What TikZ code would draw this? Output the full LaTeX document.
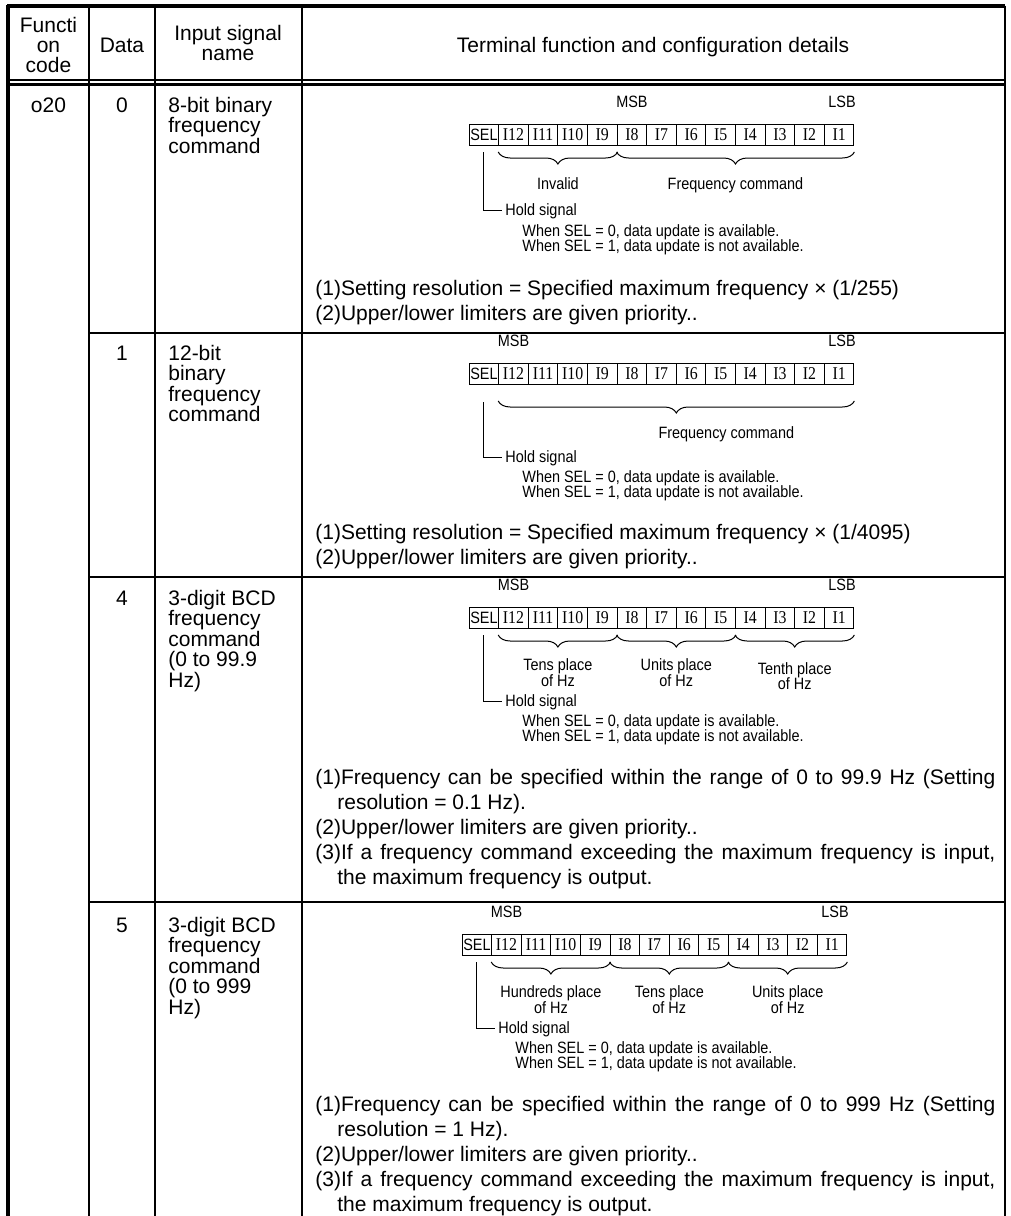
\documentclass[tikz,border=0pt]{standalone}
\usepackage{fontspec}
\setmainfont{Liberation Sans}
\newfontfamily\narrowsans{Liberation Sans}[FakeStretch=0.88]
\newfontfamily\narrowserif{Liberation Serif}[FakeStretch=0.88]
\usetikzlibrary{positioning,decorations.pathreplacing}

\tikzset{
  rule/.style={line width=1.4pt},
  txt/.style={inner sep=0pt,anchor=base,font=\fontsize{10.5}{12}\selectfont},
  body/.style={inner sep=0pt,anchor=base west,font=\fontsize{10.5}{12}\selectfont},
  small/.style={inner sep=0pt,align=center,font=\narrowsans\fontsize{8.2}{7.8}\selectfont},
  bit/.style={draw,line width=0.5pt,minimum width=14.8pt,minimum height=10.5pt,inner sep=0pt,anchor=north west,font=\narrowserif\fontsize{9}{9}\selectfont},
  ubrace/.style={decorate,decoration={brace,mirror,amplitude=6pt},line width=0.5pt},
  nl/.style={below=#1,anchor=base west}
}

\begin{document}
\begin{tikzpicture}[x=0.5pt,y=-0.5pt,on grid]
\useasboundingbox (0,0) rectangle (1011,1216);
\draw[rule,line width=2pt] (8,5) -- (8,1216);
\draw[rule,line width=1.8pt] (7,6) -- (1005,6);
\draw[rule] (1005,5.5) -- (1005,1216);
\foreach \x in {89,155,302} \draw[rule] (\x,6) -- (\x,1216);
\draw[rule,line width=1.3pt] (8,80) -- (1005,80);
\draw[rule,line width=1.3pt] (8,84.5) -- (1005,84.5);
\foreach \y in {333,577,902} \draw[rule] (89,\y) -- (1005,\y);

\foreach \t [count=\i from 0] in {Functi,on,code} \node[txt] (hc\i) at (48.5,{32+20*\i}) {\t};
\node[txt] (hdata) at (122,52) {Data};
\node[txt] (hname1) at (228,40) {Input signal};
\node[txt] (hname2) at (228,60) {name};
\node[txt] (hterm) at (653,52) {Terminal function and configuration details};

\foreach \r/\x/\y in {a/468.6/124,b/468.6/363,c/468.6/607,d/461.6/934}{
  \node[bit,font=\narrowsans\fontsize{8.2}{8}\selectfont] (\r0) at (\x,\y) {SEL};
  \foreach \i in {12,...,1}
    \node[bit] (\r\i) at ({\x+(13-\i)*29.6},\y) {I\i};
}

\node[txt] (fcode) at (48.5,112) {o20};
\node[txt] (dat0) at (122,112) {0};
\foreach \t [count=\i from 0] in {8-bit binary,frequency,command} \node[body] (name0\i) at (168,{112+20.5*\i}) {\t};
\node[small,above=8pt of a8.north] (amsb) {MSB};
\node[small,above=8pt of a1.north,xshift=1.5pt] (alsb) {LSB};
\draw[ubrace] ([yshift=-3pt]a12.south west) -- ([yshift=-3pt]a9.south east) node[small,midway,anchor=base,yshift=-18.5pt] (ainv) {Invalid};
\draw[ubrace] ([yshift=-3pt]a8.south west) -- ([yshift=-3pt]a1.south east) node[small,midway,anchor=base,yshift=-18.5pt] (afreq) {Frequency command};
\node[small,anchor=base west] (ahold) at (505,215) {Hold signal};
\draw[line width=0.5pt] ([yshift=-3pt]a0.south) |- ([xshift=-1.5pt]ahold.west);
\node[small,anchor=base west] (awhen0) at (522,236) {When SEL = 0, data update is available.};
\node[small,nl=7.5pt of awhen0.base west] (awhen1) {When SEL = 1, data update is not available.};
\node[body] (ap1) at (315,295) {(1)Setting resolution = Specified maximum frequency × (1/255)};
\node[body,nl=12.5pt of ap1.base west] (ap2) {(2)Upper/lower limiters are given priority..};

\node[txt] (dat1) at (122,360) {1};
\foreach \t [count=\i from 0] in {12-bit,binary,frequency,command} \node[body] (name1\i) at (168,{360+20.5*\i}) {\t};
\node[small,above=8pt of b12.north] (bmsb) {MSB};
\node[small,above=8pt of b1.north,xshift=1.5pt] (blsb) {LSB};
\draw[ubrace] ([yshift=-8pt]b12.south west) -- ([yshift=-8pt]b1.south east) node[small,midway,anchor=base,xshift=25pt,yshift=-18.5pt] (bfreq) {Frequency command};
\node[small,anchor=base west] (bhold) at (505,462) {Hold signal};
\draw[line width=0.5pt] ([yshift=-8.5pt]b0.south) |- ([xshift=-1.5pt]bhold.west);
\node[small,anchor=base west] (bwhen0) at (522,482) {When SEL = 0, data update is available.};
\node[small,nl=7.5pt of bwhen0.base west] (bwhen1) {When SEL = 1, data update is not available.};
\node[body] (bp1) at (315,539) {(1)Setting resolution = Specified maximum frequency × (1/4095)};
\node[body,nl=12.5pt of bp1.base west] (bp2) {(2)Upper/lower limiters are given priority..};

\node[txt] (dat4) at (122,605) {4};
\foreach \t [count=\i from 0] in {3-digit BCD,frequency,command,{(0 to 99.9},{Hz)}} \node[body] (name4\i) at (168,{605+20.5*\i}) {\t};
\node[small,above=8pt of c12.north] (cmsb) {MSB};
\node[small,above=8pt of c1.north,xshift=1.5pt] (clsb) {LSB};
\draw[ubrace] ([yshift=-3pt]c12.south west) -- ([yshift=-3pt]c9.south east) node[small,midway,yshift=-18.75pt] (ctens) {Tens place\\of Hz};
\draw[ubrace] ([yshift=-3pt]c8.south west) -- ([yshift=-3pt]c5.south east) node[small,midway,yshift=-18.75pt] (cunits) {Units place\\of Hz};
\draw[ubrace] ([yshift=-3pt]c4.south west) -- ([yshift=-3pt]c1.south east) node[small,midway,yshift=-20.5pt] (ctenth) {Tenth place\\of Hz};
\node[small,anchor=base west] (chold) at (505,706) {Hold signal};
\draw[line width=0.5pt] ([yshift=-3pt]c0.south) |- ([xshift=-1.5pt]chold.west);
\node[small,anchor=base west] (cwhen0) at (522,726) {When SEL = 0, data update is available.};
\node[small,nl=7.5pt of cwhen0.base west] (cwhen1) {When SEL = 1, data update is not available.};
\node[body] (cp1) at (315,784) {\makebox[340pt][s]{(1)Frequency can be specified within the range of 0 to 99.9 Hz (Setting}};
\node[body,nl=12.5pt of cp1.base west,xshift=11pt] (cp2) {resolution = 0.1 Hz).};
\node[body,nl=12.5pt of cp2.base west,xshift=-11pt] (cp3) {(2)Upper/lower limiters are given priority..};
\node[body,nl=12.5pt of cp3.base west] (cp4) {\makebox[340pt][s]{(3)If a frequency command exceeding the maximum frequency is input,}};
\node[body,nl=12.5pt of cp4.base west,xshift=11pt] (cp5) {the maximum frequency is output.};

\node[txt] (dat5) at (122,932) {5};
\foreach \t [count=\i from 0] in {3-digit BCD,frequency,command,{(0 to 999},{Hz)}} \node[body] (name5\i) at (168,{932+20.5*\i}) {\t};
\node[small,above=8pt of d12.north] (dmsb) {MSB};
\node[small,above=8pt of d1.north,xshift=1.5pt] (dlsb) {LSB};
\draw[ubrace] ([yshift=-3pt]d12.south west) -- ([yshift=-3pt]d9.south east) node[small,midway,yshift=-18.75pt] (dhund) {Hundreds place\\of Hz};
\draw[ubrace] ([yshift=-3pt]d8.south west) -- ([yshift=-3pt]d5.south east) node[small,midway,yshift=-18.75pt] (dtens) {Tens place\\of Hz};
\draw[ubrace] ([yshift=-3pt]d4.south west) -- ([yshift=-3pt]d1.south east) node[small,midway,yshift=-18.75pt] (dunits) {Units place\\of Hz};
\node[small,anchor=base west] (dhold) at (498,1033) {Hold signal};
\draw[line width=0.5pt] ([yshift=-3pt]d0.south) |- ([xshift=-1.5pt]dhold.west);
\node[small,anchor=base west] (dwhen0) at (515,1053) {When SEL = 0, data update is available.};
\node[small,nl=7.5pt of dwhen0.base west] (dwhen1) {When SEL = 1, data update is not available.};
\node[body] (dp1) at (315,1111) {\makebox[340pt][s]{(1)Frequency can be specified within the range of 0 to 999 Hz (Setting}};
\node[body,nl=12.5pt of dp1.base west,xshift=11pt] (dp2) {resolution = 1 Hz).};
\node[body,nl=12.5pt of dp2.base west,xshift=-11pt] (dp3) {(2)Upper/lower limiters are given priority..};
\node[body,nl=12.5pt of dp3.base west] (dp4) {\makebox[340pt][s]{(3)If a frequency command exceeding the maximum frequency is input,}};
\node[body,nl=12.5pt of dp4.base west,xshift=11pt] (dp5) {the maximum frequency is output.};
\end{tikzpicture}
\end{document}
